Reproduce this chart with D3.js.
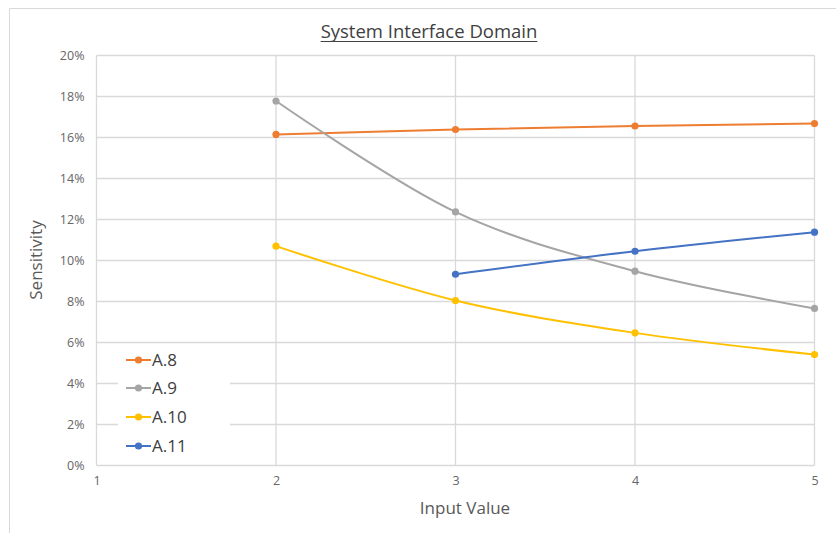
<!DOCTYPE html>
<html><head><meta charset="utf-8">
<script src="https://cdn.jsdelivr.net/npm/d3@7/dist/d3.min.js"></script>
<style>
html,body{margin:0;padding:0;background:#fff;}
svg{display:block;}
text{font-family:"Open Sans",sans-serif;}
</style></head>
<body>
<svg id="chart" width="836" height="533"></svg>
<script>
const title = "System Interface Domain";
const xLabel = "Input Value";
const yLabel = "Sensitivity";
const xTicks = [1, 2, 3, 4, 5];
const yTicks = [0, 0.02, 0.04, 0.06, 0.08, 0.10, 0.12, 0.14, 0.16, 0.18, 0.20];
const seriesNames = ["A.8", "A.9", "A.10", "A.11"];
const seriesColors = ["#ED7D31", "#A5A5A5", "#FFC000", "#4472C4"];
const a8X = [2, 3, 4, 5];
const a8Y = [0.1615, 0.1639, 0.1656, 0.1668];
const a9X = [2, 3, 4, 5];
const a9Y = [0.1778, 0.1237, 0.0948, 0.0766];
const a10X = [2, 3, 4, 5];
const a10Y = [0.1070, 0.0805, 0.0647, 0.0541];
const a11X = [3, 4, 5];
const a11Y = [0.0933, 0.1045, 0.1138];

const series = [
  {name: seriesNames[0], color: seriesColors[0], pts: a8X.map((x,i)=>({x, y:a8Y[i]}))},
  {name: seriesNames[1], color: seriesColors[1], pts: a9X.map((x,i)=>({x, y:a9Y[i]}))},
  {name: seriesNames[2], color: seriesColors[2], pts: a10X.map((x,i)=>({x, y:a10Y[i]}))},
  {name: seriesNames[3], color: seriesColors[3], pts: a11X.map((x,i)=>({x, y:a11Y[i]}))}
];

const svg = d3.select("#chart");
svg.append("line").attr("x1",9.5).attr("x2",836).attr("y1",8.5).attr("y2",8.5).attr("stroke","#d9d9d9");
svg.append("line").attr("x1",9.5).attr("x2",9.5).attr("y1",8.5).attr("y2",533).attr("stroke","#d9d9d9");

const L = 96.5, R = 814.5, T = 55.5, B = 465.5;
const x = d3.scaleLinear().domain([1,5]).range([L,R]);
const y = d3.scaleLinear().domain([0,0.20]).range([B,T]);

const g = svg.append("g");
g.selectAll(".hg").data(yTicks).join("line")
  .attr("x1",L).attr("x2",R).attr("y1",d=>y(d)).attr("y2",d=>y(d))
  .attr("stroke","#d9d9d9").attr("stroke-width",1.3);
g.selectAll(".vg").data(xTicks).join("line")
  .attr("y1",T).attr("y2",B).attr("x1",d=>x(d)).attr("x2",d=>x(d))
  .attr("stroke","#d9d9d9").attr("stroke-width",1.3);

const yAxis = d3.axisLeft(y).tickValues(yTicks).tickFormat(d3.format(".0%")).tickSize(0).tickPadding(12);
const ya = svg.append("g").attr("transform",`translate(${L},0)`).call(yAxis);
ya.select(".domain").remove();
ya.selectAll("text").attr("fill","#666").style("font-size","12.5px")
  .style("font-family","'Open Sans',sans-serif");

const xAxis = d3.axisBottom(x).tickValues(xTicks).tickFormat(d3.format("d")).tickSize(0).tickPadding(11);
const xa = svg.append("g").attr("transform",`translate(0,${B})`).call(xAxis);
xa.select(".domain").remove();
xa.selectAll("text").attr("fill","#666").style("font-size","12.5px")
  .style("font-family","'Open Sans',sans-serif");

const line = d3.line().x(d=>x(d.x)).y(d=>y(d.y)).curve(d3.curveCardinal.tension(0));
series.forEach(s=>{
  svg.append("path").datum(s.pts).attr("d",line).attr("fill","none")
    .attr("stroke",s.color).attr("stroke-width",2);
  svg.selectAll(null).data(s.pts).join("circle")
    .attr("cx",d=>x(d.x)).attr("cy",d=>y(d.y)).attr("r",3.6).attr("fill",s.color);
});

const lg = svg.append("g");
lg.append("rect").attr("x",118).attr("y",344).attr("width",112).attr("height",117).attr("fill","#fff");
const legY = [360, 388, 417, 446];
series.forEach((s,i)=>{
  lg.append("line").attr("x1",126).attr("x2",151).attr("y1",legY[i]).attr("y2",legY[i])
    .attr("stroke",s.color).attr("stroke-width",2);
  lg.append("circle").attr("cx",138.5).attr("cy",legY[i]).attr("r",3.6).attr("fill",s.color);
  lg.append("text").attr("x",152).attr("y",legY[i]).attr("dy","0.36em")
    .attr("fill","#404040").style("font-size","17px")
    .style("font-family","'Open Sans',sans-serif").text(s.name);
});

const tt = svg.append("text").attr("x",429).attr("y",38).attr("text-anchor","middle")
  .attr("fill","#404040").style("font-size","18.5px").text(title);
const bb = tt.node().getBBox();
svg.append("line").attr("x1",bb.x).attr("x2",bb.x+bb.width).attr("y1",41.5).attr("y2",41.5)
  .attr("stroke","#404040").attr("stroke-width",1.2);

svg.append("text").attr("x",465).attr("y",514).attr("text-anchor","middle")
  .attr("fill","#595959").style("font-size","17px").text(xLabel);
svg.append("text").attr("transform","translate(42,260) rotate(-90)").attr("text-anchor","middle")
  .attr("fill","#595959").style("font-size","17px").text(yLabel);
</script>
</body></html>
